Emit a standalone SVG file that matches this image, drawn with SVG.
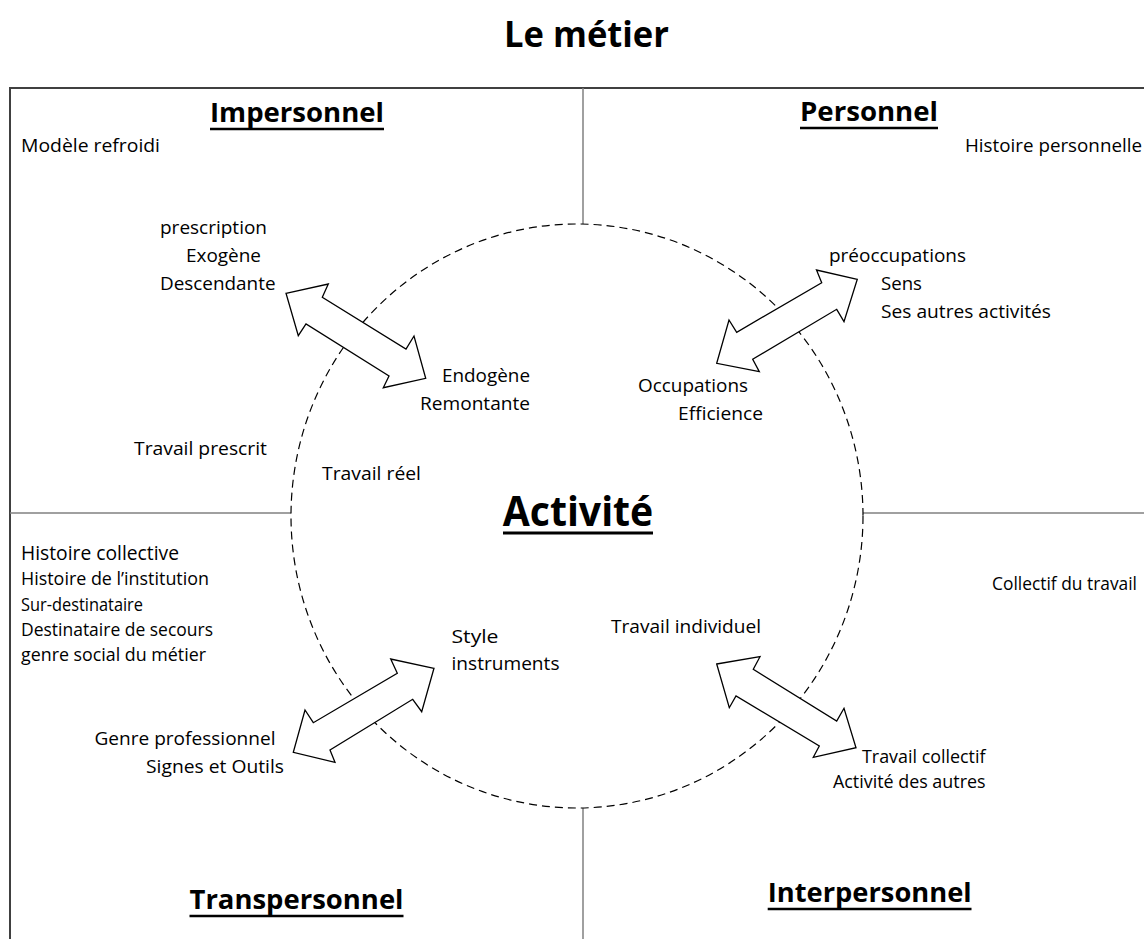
<svg xmlns="http://www.w3.org/2000/svg" width="1144" height="939" viewBox="0 0 1144 939">
<style>
text{font-family:"Open Sans","Noto Sans","Liberation Sans",sans-serif;fill:#000}
.b{font-size:19px}
.s{font-size:18px}
.h{font-size:27px;font-weight:bold}
.ul{stroke:#000;stroke-width:2.5}
.div{stroke:#808080;stroke-width:1.5;fill:none}
.frame{stroke:#404040;stroke-width:2;fill:none}
.arrow{fill:#fff;stroke:#000;stroke-width:1.3;stroke-linejoin:miter}
</style>
<rect width="1144" height="939" fill="#fff"/>
<g id="title">
<text x="586.5" y="47" text-anchor="middle" font-size="36" font-weight="bold" textLength="165" lengthAdjust="spacingAndGlyphs">Le métier</text>
</g>
<g id="frame">
<path class="frame" d="M10,939 V88 H1144"/>
<line class="div" x1="583" y1="88" x2="583" y2="224"/>
<line class="div" x1="10" y1="513" x2="291" y2="513"/>
<line class="div" x1="863" y1="513" x2="1144" y2="513"/>
<line class="div" x1="583" y1="808" x2="583" y2="939"/>
</g>
<g id="activite">
<ellipse cx="577" cy="516" rx="286" ry="292" fill="none" stroke="#000" stroke-width="1.2" stroke-dasharray="8 5"/>
<text x="502.7" y="526" font-size="41" font-weight="bold" textLength="150.6" lengthAdjust="spacingAndGlyphs">Activité</text>
<line x1="503" y1="533" x2="653" y2="533" stroke="#000" stroke-width="3"/>
</g>
<g id="impersonnel">
<text class="h" x="210" y="122" textLength="174" lengthAdjust="spacingAndGlyphs">Impersonnel</text>
<line class="ul" x1="210" y1="129" x2="384" y2="129"/>
<text class="b" x="21" y="152" textLength="139" lengthAdjust="spacingAndGlyphs">Modèle refroidi</text>
<text class="b" x="160" y="234" textLength="107" lengthAdjust="spacingAndGlyphs">prescription</text>
<text class="b" x="186" y="262" textLength="75" lengthAdjust="spacingAndGlyphs">Exogène</text>
<text class="b" x="160" y="290" textLength="115.5" lengthAdjust="spacingAndGlyphs">Descendante</text>
<text class="b" x="442" y="382" textLength="88" lengthAdjust="spacingAndGlyphs">Endogène</text>
<text class="b" x="420" y="410" textLength="110" lengthAdjust="spacingAndGlyphs">Remontante</text>
<text class="b" x="134" y="455" textLength="133" lengthAdjust="spacingAndGlyphs">Travail prescrit</text>
<text class="b" x="322" y="480" textLength="99" lengthAdjust="spacingAndGlyphs">Travail réel</text>
</g>
<g id="personnel">
<text class="h" x="800" y="121" textLength="138" lengthAdjust="spacingAndGlyphs">Personnel</text>
<line class="ul" x1="800" y1="128" x2="938" y2="128"/>
<text class="b" x="965" y="152" textLength="177" lengthAdjust="spacingAndGlyphs">Histoire personnelle</text>
<text class="b" x="829" y="262" textLength="137" lengthAdjust="spacingAndGlyphs">préoccupations</text>
<text class="b" x="881" y="290" textLength="41" lengthAdjust="spacingAndGlyphs">Sens</text>
<text class="b" x="881" y="318" textLength="170" lengthAdjust="spacingAndGlyphs">Ses autres activités</text>
<text class="b" x="638" y="392" textLength="110" lengthAdjust="spacingAndGlyphs">Occupations</text>
<text class="b" x="678" y="420" textLength="85" lengthAdjust="spacingAndGlyphs">Efficience</text>
</g>
<g id="transpersonnel">
<text x="21" y="560" font-size="19.5" textLength="158" lengthAdjust="spacingAndGlyphs">Histoire collective</text>
<text class="s" x="21" y="585" textLength="188" lengthAdjust="spacingAndGlyphs">Histoire de l’institution</text>
<text class="s" x="21" y="611" textLength="122" lengthAdjust="spacingAndGlyphs">Sur-destinataire</text>
<text class="s" x="21" y="636" textLength="192" lengthAdjust="spacingAndGlyphs">Destinataire de secours</text>
<text class="s" x="21" y="661" textLength="185" lengthAdjust="spacingAndGlyphs">genre social du métier</text>
<text class="b" x="451.5" y="643" textLength="47" lengthAdjust="spacingAndGlyphs">Style</text>
<text class="b" x="451.5" y="670" textLength="108" lengthAdjust="spacingAndGlyphs">instruments</text>
<text class="b" x="94.5" y="745" textLength="181" lengthAdjust="spacingAndGlyphs">Genre professionnel</text>
<text class="b" x="146" y="773" textLength="138" lengthAdjust="spacingAndGlyphs">Signes et Outils</text>
<text class="h" x="189.5" y="909" textLength="214" lengthAdjust="spacingAndGlyphs">Transpersonnel</text>
<line class="ul" x1="189.5" y1="916" x2="403.5" y2="916"/>
</g>
<g id="interpersonnel">
<text class="b" x="611" y="633" textLength="150" lengthAdjust="spacingAndGlyphs">Travail individuel</text>
<text x="992" y="590" font-size="17.5" textLength="145" lengthAdjust="spacingAndGlyphs">Collectif du travail</text>
<text class="s" x="862" y="763" textLength="123.5" lengthAdjust="spacingAndGlyphs">Travail collectif</text>
<text class="s" x="833" y="788" textLength="152.5" lengthAdjust="spacingAndGlyphs">Activité des autres</text>
<text class="h" x="767.7" y="902" textLength="204" lengthAdjust="spacingAndGlyphs">Interpersonnel</text>
<line class="ul" x1="767.7" y1="909" x2="971.5" y2="909"/>
</g>
<g id="connectors">
<polygon id="arrow-impersonnel" class="arrow" points="286,293.3 328.3,284 322.3,297.3 406,349 414,336 425.7,378.3 383.3,387.7 389,376 306,324 298.3,335.7"/>
<polygon id="arrow-personnel" class="arrow" points="857.3,279.3 816.5,270 821.7,282.7 736.7,332.3 729,320 716.7,363.3 759.3,371.7 752.7,359.3 836.7,309.3 844,321.7"/>
<polygon id="arrow-transpersonnel" class="arrow" points="434,668.3 390.7,659 397.3,673.3 313.3,722.7 305,710 293.3,752.3 335,762.3 330,750 412.7,699.3 421.7,711.7"/>
<polygon id="arrow-interpersonnel" class="arrow" points="716.7,664 760,656.7 753.3,669.3 836.7,721 844,708.3 856,747.7 813.3,757.3 819.3,746 736,696 729.3,707.7"/>
</g>
</svg>
